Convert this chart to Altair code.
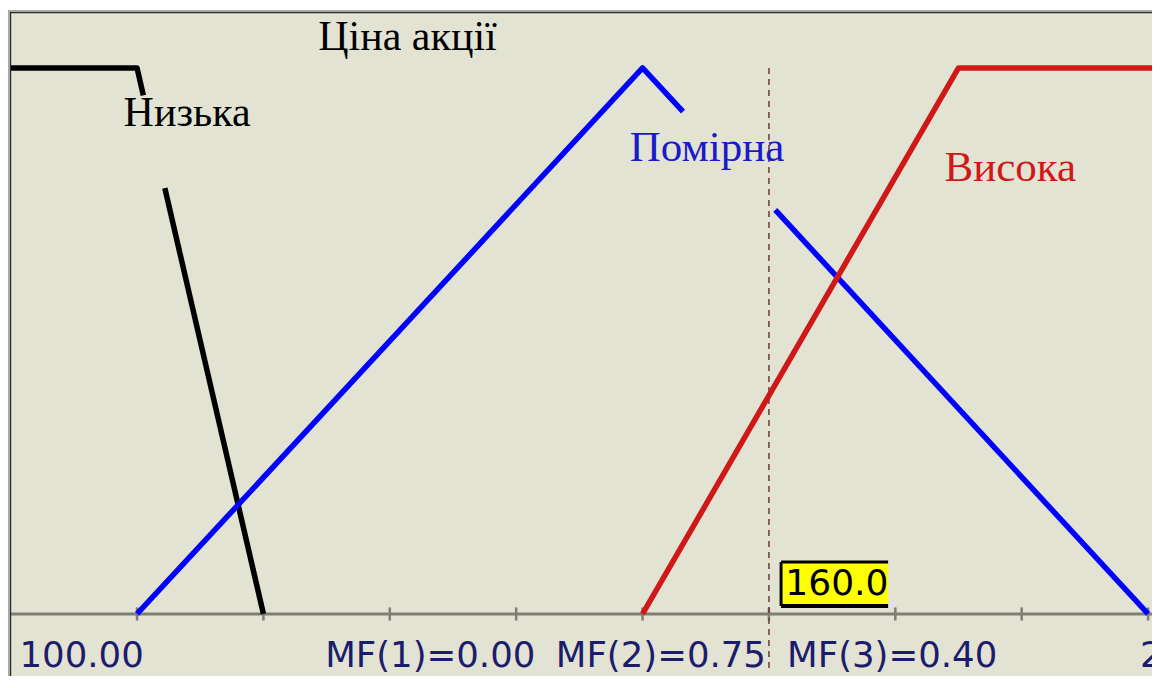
import altair as alt
import pandas as pd

# ---- data ----
x_domain = [99.79, 190.31]          # visible part of the 100..200 universe
mu_domain = [-0.1136, 1.1062]

terms = ["Низька", "Помірна", "Висока"]
term_colors = ["#000000", "#0000FF", "#D01818"]

# membership functions (gaps where the term labels cover the lines)
low_x = [100, 110, 110.5, 112.2, 120]
low_mu = [1, 1, 0.95, 0.78, 0]
low_part = [1, 1, 1, 2, 2]

mid_x = [110, 150, 153.2, 160.5, 190]
mid_mu = [0, 1, 0.92, 0.74, 0]
mid_part = [1, 1, 1, 2, 2]

high_x = [150, 175, 200]
high_mu = [0, 1, 1]
high_part = [1, 1, 1]

current_x = 160.0
current_label = "160.0"
mf_labels = ["MF(1)=0.00", "MF(2)=0.75", "MF(3)=0.40"]
range_labels = ["100.00", "200.00"]
tick_values = [110, 120, 130, 140, 150, 160, 170, 180, 190]
title_text = "Ціна акції"

# ---- build tables ----
rows = []
for term, xs_, ms_, ps_ in [
    ("Низька", low_x, low_mu, low_part),
    ("Помірна", mid_x, mid_mu, mid_part),
    ("Висока", high_x, high_mu, high_part),
]:
    for i, (a, b, p) in enumerate(zip(xs_, ms_, ps_)):
        rows.append({"x": a, "mu": b, "term": term, "seg": f"{term}-{p}", "i": i})
lines_df = pd.DataFrame(rows)
ticks_df = pd.DataFrame({"t": tick_values})

W, H = 1144, 666
xs = alt.Scale(domain=x_domain, nice=False, zero=False)
ys = alt.Scale(domain=mu_domain, nice=False, zero=False)


def X(field=None, datum=None):
    if datum is not None:
        return alt.X(datum=datum, type="quantitative", scale=xs, axis=None)
    return alt.X(field, type="quantitative", scale=xs, axis=None)


def Y(field=None, datum=None):
    if datum is not None:
        return alt.Y(datum=datum, type="quantitative", scale=ys, axis=None)
    return alt.Y(field, type="quantitative", scale=ys, axis=None)


base = alt.Chart(pd.DataFrame({"d": [0]}))

axis_line = base.mark_rule(color="#7E7E72", strokeWidth=3).encode(y=Y(datum=0))
ticks = alt.Chart(ticks_df).mark_rule(color="#7E7E72", strokeWidth=2.5).encode(
    x=X("t"), y=Y(datum=0.012), y2=alt.Y2(datum=-0.012)
)
dashed = base.mark_rule(color="#6E3A3A", strokeWidth=1.5, strokeDash=[6, 5]).encode(
    x=X(datum=current_x), y=Y(datum=1.0), y2=alt.Y2(datum=-0.106)
)

lines = alt.Chart(lines_df).mark_line(strokeWidth=5.5, clip=True, strokeJoin="round").encode(
    x=X("x"),
    y=Y("mu"),
    color=alt.Color("term:N", scale=alt.Scale(domain=terms, range=term_colors), legend=None),
    detail="seg:N",
    order="i:Q",
)


def label(text, x, y, color, size=42, font="Liberation Serif", align="center"):
    return base.mark_text(
        text=text, font=font, fontSize=size, color=color, align=align, baseline="middle"
    ).encode(x=X(datum=x), y=Y(datum=y))


title = label(title_text, 131.4, 1.057, "#000000")
lab_low = label(terms[0], 113.96, 0.9176, term_colors[0])
lab_mid = label(terms[1], 155.1, 0.8535, "#1A1AC8", size=43)
lab_high = label(terms[2], 179.1, 0.8168, term_colors[2], size=43)

tick_font = "DejaVu Sans"
tick_col = "#1C1C6C"
ts = 35.5
t_min = label(range_labels[0], 100.7, -0.077, tick_col, size=ts, font=tick_font, align="left")
t_max = label(range_labels[1], 189.37, -0.077, tick_col, size=ts, font=tick_font, align="left")
t_mf1 = label(mf_labels[0], 133.2, -0.077, tick_col, size=ts, font=tick_font)
t_mf2 = label(mf_labels[1], 151.45, -0.077, tick_col, size=ts, font=tick_font)
t_mf3 = label(mf_labels[2], 169.75, -0.077, tick_col, size=ts, font=tick_font)

# value box: yellow, framed on left, top and bottom
bx1, bx2, by1, by2 = 160.96, 169.43, 0.0147, 0.0952
box = base.mark_rect(fill="#FFFF00").encode(
    x=X(datum=bx1), x2=alt.X2(datum=bx2), y=Y(datum=by1), y2=alt.Y2(datum=by2)
)
box_left = base.mark_rule(color="#000000", strokeWidth=3).encode(
    x=X(datum=bx1), y=Y(datum=by1), y2=alt.Y2(datum=by2)
)
box_top = base.mark_rule(color="#000000", strokeWidth=3).encode(
    y=Y(datum=by2), x=X(datum=bx1), x2=alt.X2(datum=bx2)
)
box_bot = base.mark_rule(color="#000000", strokeWidth=4).encode(
    y=Y(datum=by1), x=X(datum=bx1), x2=alt.X2(datum=bx2)
)
box_text = label(current_label, 161.3, 0.055, "#000000", size=36, font=tick_font, align="left")

# window frame (left and top edges only)
frame = [
    base.mark_rule(color="#A8A8A8", strokeWidth=2).encode(x=alt.value(1), y=alt.value(0), y2=alt.value(H)),
    base.mark_rule(color="#2A2A2A", strokeWidth=1.2).encode(x=alt.value(2.6), y=alt.value(2), y2=alt.value(H)),
    base.mark_rule(color="#A8A8A8", strokeWidth=2).encode(y=alt.value(1), x=alt.value(0), x2=alt.value(W)),
    base.mark_rule(color="#2A2A2A", strokeWidth=1.2).encode(y=alt.value(2.6), x=alt.value(2), x2=alt.value(W)),
]

chart = alt.layer(
    axis_line, ticks, dashed, lines,
    title, lab_low, lab_mid, lab_high,
    t_min, t_max, t_mf1, t_mf2, t_mf3,
    box, box_text, box_left, box_top, box_bot, *frame,
).properties(
    width=W, height=H,
    padding={"left": 0, "top": 2, "right": 0, "bottom": 0},
    autosize=alt.AutoSizeParams(type="none"),
    background="#FFFFFF",
).configure_view(stroke=None, fill="#E3E3D4")

chart.save("out.html", embed_options={"renderer": "svg", "actions": False})
